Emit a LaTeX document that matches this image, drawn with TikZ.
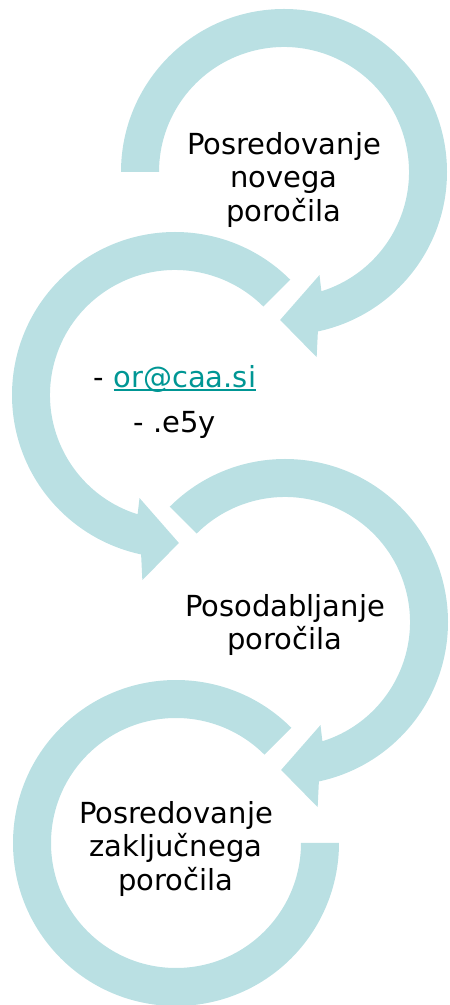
\documentclass[tikz,border=0pt]{standalone}
\usepackage{fontspec}
\setmainfont{DejaVu Sans}
\usepackage{tikz}
\definecolor{ringblue}{RGB}{186,224,227}
\definecolor{linkteal}{RGB}{0,150,148}
\newcommand\emaillink[1]{{\color{linkteal}\setbox0\hbox{#1}\rlap{\rule[-3.5pt]{\wd0}{1.8pt}}\box0}}

\begin{document}
\begin{tikzpicture}[x=1pt,y=1pt]
\tikzset{band/.style={fill=ringblue, draw=none}}
\tikzset{steptext/.style={align=center, text=black, font=\fontsize{29}{33.5}\selectfont}}
\useasboundingbox (0,0) rectangle (450,1005);
\coordinate (c1) at (284,833);
\coordinate (c2) at (175,610);
\coordinate (c3) at (285,383);
\coordinate (c4) at (176,162);
% krozne puscice
\fill[band, shift={(c1)}] (180:163) arc[start angle=180, end angle=-78, radius=163]
    -- (-80:188) -- (-91.5:148) -- (-71:109) -- (-72.6:125)
    arc[start angle=-72.6, end angle=180, radius=125] -- cycle;
\fill[band, shift={(c2)}] (45:163) arc[start angle=45, end angle=258, radius=163]
    -- (260:188) -- (271.5:148) -- (251:109) -- (252.6:125)
    arc[start angle=252.6, end angle=45, radius=125] -- cycle;
\fill[band, shift={(c3)}] (135:163) arc[start angle=135, end angle=-78, radius=163]
    -- (-80:188) -- (-91.5:148) -- (-71:109) -- (-72.6:125)
    arc[start angle=-72.6, end angle=135, radius=125] -- cycle;
\fill[band, shift={(c4)}] (45:163) arc[start angle=45, end angle=360, radius=163]
    -- (0:125) arc[start angle=360, end angle=45, radius=125] -- cycle;
% besedila
\node[steptext] (novo) at ([yshift=-8pt]c1) {Posredovanje\\novega\\poročila};
\node[steptext] (kontakt) at ([yshift=-7pt]c2) {- \emaillink{or@caa.si}\\[11pt]- .e5y};
\node[steptext] (posod) at ([yshift=-3pt]c3) {Posodabljanje\\poročila};
\node[steptext] (zaklj) at ([yshift=-6pt]c4) {Posredovanje\\zaključnega\\poročila};
\end{tikzpicture}
\end{document}
